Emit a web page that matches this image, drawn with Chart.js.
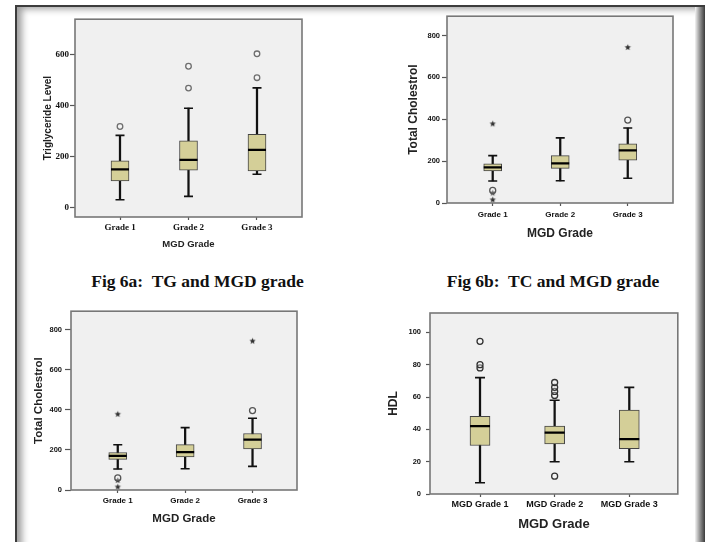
<!DOCTYPE html>
<html>
<head>
<meta charset="utf-8">
<script src="https://cdn.jsdelivr.net/npm/chart.js@4.4.1/dist/chart.umd.min.js"></script>
<style>
  html, body { margin: 0; padding: 0; background: #fff; }
  body { width: 705px; height: 542px; position: relative; overflow: hidden; }
  .frame { position: absolute; left: 15px; top: 5px; width: 700px; height: 560px;
           border-top: 2px solid #3c3c3c; border-left: 2px solid #3c3c3c;
           box-shadow: inset 8px 5px 7px -3px rgba(0,0,0,0.38); }
  .rightEdge { position: absolute; left: 695px; top: 7px; width: 10px; height: 540px;
               background: linear-gradient(to right, #f4f4f4, #9a9a9a 45%, #3a3a3a); }
  canvas { position: absolute; }
  .fig { position: absolute; font: bold 17.5px "Liberation Serif", "Times New Roman", serif;
         color: #111; white-space: pre; text-align: center; line-height: 20px; }
</style>
</head>
<body>
<div class="frame"></div>
<div class="rightEdge"></div>
<canvas id="tg" width="300" height="252" style="left:22px;top:8px;width:300px;height:252px"></canvas>
<canvas id="tc" width="310" height="245" style="left:380px;top:5px;width:310px;height:245px"></canvas>
<div class="fig" style="left:0px;top:271px;width:395px">Fig 6a:  TG and MGD grade</div>
<div class="fig" style="left:403px;top:271px;width:300px">Fig 6b:  TC and MGD grade</div>
<canvas id="tc2" width="290" height="232" style="left:22px;top:300px;width:290px;height:232px"></canvas>
<canvas id="hdl" width="320" height="235" style="left:370px;top:300px;width:320px;height:235px"></canvas>
<script>
// categories
const grades = ['Grade 1', 'Grade 2', 'Grade 3'];
const hdlGrades = ['MGD Grade 1', 'MGD Grade 2', 'MGD Grade 3'];

// Triglyceride level (box summaries per grade)
const tgLow = [30, 43, 130];
const tgQ1 = [104, 146, 143];
const tgMedian = [149, 187, 226];
const tgQ3 = [183, 262, 287];
const tgHigh = [283, 390, 470];
const tgOutliers = [[318], [469, 555], [510, 604]];
const tgExtremes = [[], [], []];
const tgTicks = [0, 200, 400, 600];

// Total cholesterol
const tcLow = [105, 106, 118];
const tcQ1 = [153, 165, 205];
const tcMedian = [170, 189, 251];
const tcQ3 = [187, 226, 282];
const tcHigh = [226, 311, 358];
const tcOutliers = [[60], [], [396]];
const tcExtremes = [[378, 48, 15], [], [743]];
const tcTicks = [0, 200, 400, 600, 800];

// HDL
const hdlLow = [7, 20, 20];
const hdlQ1 = [30, 31, 28];
const hdlMedian = [42, 38, 34];
const hdlQ3 = [48, 42, 52];
const hdlHigh = [72, 58, 66];
const hdlOutliers = [[78, 80, 94.5], [11, 61, 63.5, 66, 69], []];
const hdlExtremes = [[], [], []];
const hdlTicks = [0, 20, 40, 60, 80, 100];

const BOX_FILL = '#d4cf98';

// little filled star used for extreme values
function makeStar(r, color) {
  const c = document.createElement('canvas');
  c.width = c.height = Math.ceil(r * 2 + 2);
  const g = c.getContext('2d');
  const cx = c.width / 2, cy = c.height / 2;
  g.beginPath();
  for (let i = 0; i < 10; i++) {
    const rad = i % 2 ? r * 0.45 : r;
    const a = -Math.PI / 2 + i * Math.PI / 5;
    g.lineTo(cx + rad * Math.cos(a), cy + rad * Math.sin(a));
  }
  g.closePath();
  g.fillStyle = color;
  g.fill();
  return c;
}
const star = makeStar(3.3, '#333');

// grey plot background + frame, SPSS style
const plotFrame = {
  id: 'plotFrame',
  beforeDraw(chart) {
    const {ctx, chartArea: a} = chart;
    ctx.save();
    ctx.fillStyle = '#f0f0f0';
    ctx.fillRect(a.left, a.top, a.right - a.left, a.bottom - a.top);
    ctx.restore();
  },
  afterDraw(chart) {
    const {ctx, chartArea: a} = chart;
    ctx.save();
    ctx.strokeStyle = '#777';
    ctx.lineWidth = 1.6;
    ctx.strokeRect(a.left, a.top, a.right - a.left, a.bottom - a.top);
    ctx.restore();
  }
};

function boxChart(id, o) {
  const pts = arr => arr.map((v, i) => ({x: i + 1, y: v}));
  const flat = lists => lists.flatMap((l, i) => l.map(v => ({x: i + 1, y: v})));
  return new Chart(document.getElementById(id), {
    type: 'bar',
    data: {
      datasets: [
        { // whiskers
          data: o.low.map((v, i) => ({x: i + 1, y: [v, o.high[i]]})),
          backgroundColor: '#111', barThickness: 1.6, grouped: false, order: 3
        },
        { // boxes
          data: o.q1.map((v, i) => ({x: i + 1, y: [v, o.q3[i]]})),
          backgroundColor: BOX_FILL, borderColor: '#444', borderWidth: 1,
          borderSkipped: false, barThickness: o.boxW, grouped: false, order: 2
        },
        { // medians
          type: 'scatter', data: pts(o.median), pointStyle: 'line',
          pointRadius: o.boxW / 2, borderColor: '#000', borderWidth: 2.2, order: 1
        },
        { // whisker caps
          type: 'scatter', data: pts(o.low).concat(pts(o.high)), pointStyle: 'line',
          pointRadius: o.boxW / 4, borderColor: '#111', borderWidth: 1.6, order: 1
        },
        { // outliers
          type: 'scatter', data: flat(o.outliers), pointStyle: 'circle',
          pointRadius: o.circleR, backgroundColor: 'rgba(255,255,255,0.3)',
          borderColor: o.circleColor, borderWidth: 1.3, order: 0
        },
        { // extremes
          type: 'scatter', data: flat(o.extremes), pointStyle: star, order: 0
        }
      ]
    },
    options: {
      responsive: false,
      animation: false,
      events: [],
      layout: { padding: o.pad },
      plugins: { legend: { display: false }, tooltip: { enabled: false } },
      scales: {
        x: {
          type: 'linear', min: o.xMin, max: o.xMax, offset: false,
          afterBuildTicks: ax => { ax.ticks = [1, 2, 3].map(v => ({value: v})); },
          afterFit: ax => { ax.height = o.xAxisH; },
          ticks: {
            callback: v => o.labels[v - 1], font: o.xTickFont, color: '#111',
            padding: o.xTickPad, autoSkip: false, maxRotation: 0
          },
          grid: { drawOnChartArea: false, offset: false, tickLength: 3, color: '#555', tickWidth: 1.2 },
          border: { display: false },
          title: {
            display: true, text: 'MGD Grade', color: '#222',
            font: { family: 'Liberation Sans', weight: 'bold', size: o.xTitleSize },
            padding: { top: 0, bottom: o.xTitlePad }
          }
        },
        y: {
          min: o.yMin, max: o.yMax,
          afterBuildTicks: ax => { ax.ticks = o.ticks.map(v => ({value: v})); },
          afterFit: ax => { ax.width = o.yAxisW; },
          ticks: { font: o.yTickFont, color: '#111', padding: o.yTickPad },
          grid: { drawOnChartArea: false, tickLength: o.yTickLen, color: '#555', tickWidth: 1.2 },
          border: { display: false },
          title: {
            display: true, text: o.yTitle, color: '#222',
            font: { family: 'Liberation Sans', weight: 'bold', size: o.yTitleSize },
            padding: { top: o.yTitlePad, bottom: 0 }
          }
        }
      }
    },
    plugins: [plotFrame]
  });
}

const serifTick = { family: 'Liberation Serif', weight: 'bold', size: 9 };
const sansTickX = { family: 'Liberation Sans', weight: 'bold', size: 8 };
const sansTickY = { family: 'Liberation Sans', weight: 'bold', size: 7.5 };

boxChart('tg', {
  low: tgLow, q1: tgQ1, median: tgMedian, q3: tgQ3, high: tgHigh,
  outliers: tgOutliers, extremes: tgExtremes, ticks: tgTicks, labels: grades,
  yTitle: 'Triglyceride Level', yMin: -38, yMax: 740, xMin: 0.343, xMax: 3.657,
  boxW: 18, circleR: 2.8, circleColor: '#6e6e6e',
  pad: { left: 0, right: 20, top: 8, bottom: 0 }, yAxisW: 53, xAxisH: 43,
  xTickFont: serifTick, yTickFont: serifTick, xTickPad: 2.5, yTickPad: 1, yTickLen: 5,
  yTitleSize: 10, yTitlePad: 20, xTitleSize: 9.5, xTitlePad: 10.3
});

boxChart('tc', {
  low: tcLow, q1: tcQ1, median: tcMedian, q3: tcQ3, high: tcHigh,
  outliers: tcOutliers, extremes: tcExtremes, ticks: tcTicks, labels: grades,
  yTitle: 'Total Cholestrol', yMin: 0, yMax: 892, xMin: 0.323, xMax: 3.67,
  boxW: 18, circleR: 3, circleColor: '#555',
  pad: { left: 0, right: 17, top: 8, bottom: 0 }, yAxisW: 67, xAxisH: 47,
  xTickFont: sansTickX, yTickFont: sansTickY,
  xTickPad: 4, yTickPad: 2, yTickLen: 5,
  yTitleSize: 12, yTitlePad: 26.8, xTitleSize: 12, xTitlePad: 8.8
});

boxChart('tc2', {
  low: tcLow, q1: tcQ1, median: tcMedian, q3: tcQ3, high: tcHigh,
  outliers: tcOutliers, extremes: tcExtremes, ticks: tcTicks, labels: grades,
  yTitle: 'Total Cholestrol', yMin: 0, yMax: 892, xMin: 0.306, xMax: 3.66,
  boxW: 18, circleR: 3, circleColor: '#555',
  pad: { left: 0, right: 15, top: 9, bottom: 0 }, yAxisW: 49, xAxisH: 42,
  xTickFont: sansTickX, yTickFont: sansTickY,
  xTickPad: 2.8, yTickPad: 3, yTickLen: 6,
  yTitleSize: 11.5, yTitlePad: 10.4, xTitleSize: 11.5, xTitlePad: 6.1
});

boxChart('hdl', {
  low: hdlLow, q1: hdlQ1, median: hdlMedian, q3: hdlQ3, high: hdlHigh,
  outliers: hdlOutliers, extremes: hdlExtremes, ticks: hdlTicks, labels: hdlGrades,
  yTitle: 'HDL', yMin: 0, yMax: 112, xMin: 0.33, xMax: 3.65,
  boxW: 20, circleR: 3, circleColor: '#333',
  pad: { left: 0, right: 9, top: 13, bottom: 0 }, yAxisW: 60, xAxisH: 41,
  xTickFont: { family: 'Liberation Sans', weight: 'bold', size: 9 }, yTickFont: sansTickY,
  xTickPad: 2.6, yTickPad: 5, yTickLen: 4,
  yTitleSize: 12, yTitlePad: 16.8, xTitleSize: 13, xTitlePad: 3.2
});
</script>
</body>
</html>
